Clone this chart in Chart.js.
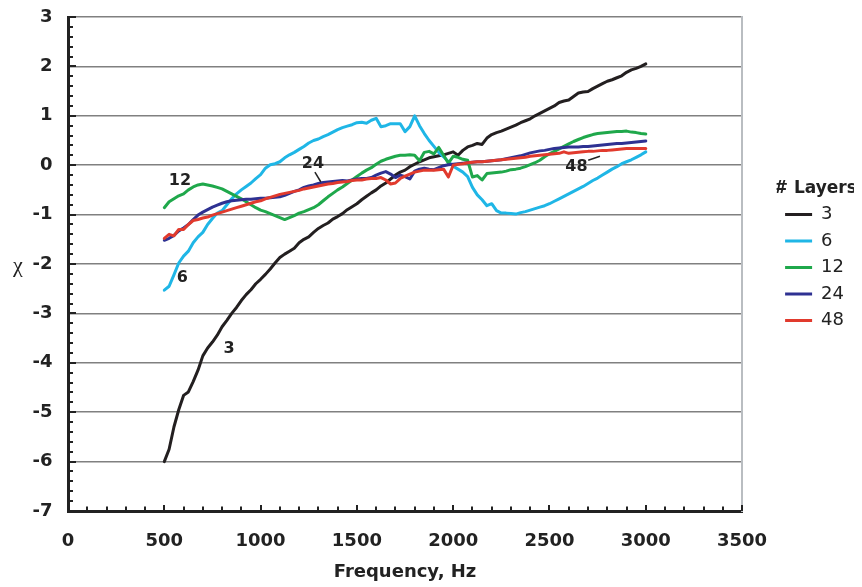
<!DOCTYPE html>
<html>
<head>
<meta charset="utf-8">
<script src="https://cdn.jsdelivr.net/npm/chart.js@4.4.0/dist/chart.umd.min.js"></script>
<style>
  html, body { margin: 0; padding: 0; background: #fff; }
</style>
</head>
<body>
<canvas id="chart" width="862" height="587"></canvas>
<script>
// frequency samples, Hz
const freq = [
  500, 525, 550, 575, 600, 625, 650, 675, 700, 725,
  750, 775, 800, 825, 850, 875, 900, 925, 950, 975,
  1000, 1025, 1050, 1075, 1100, 1125, 1150, 1175, 1200, 1225,
  1250, 1275, 1300, 1325, 1350, 1375, 1400, 1425, 1450, 1475,
  1500, 1525, 1550, 1575, 1600, 1625, 1650, 1675, 1700, 1725,
  1750, 1775, 1800, 1825, 1850, 1875, 1900, 1925, 1950, 1975,
  2000, 2025, 2050, 2075, 2100, 2125, 2150, 2175, 2200, 2225,
  2250, 2275, 2300, 2325, 2350, 2375, 2400, 2425, 2450, 2475,
  2500, 2525, 2550, 2575, 2600, 2625, 2650, 2675, 2700, 2725,
  2750, 2775, 2800, 2825, 2850, 2875, 2900, 2925, 2950, 2975,
  3000
];

const layers3 = [
  -6.00, -5.75, -5.30, -4.95, -4.66, -4.59, -4.38, -4.15, -3.86, -3.70,
  -3.58, -3.44, -3.27, -3.14, -3.00, -2.88, -2.74, -2.62, -2.52, -2.40,
  -2.31, -2.21, -2.10, -1.98, -1.87, -1.80, -1.74, -1.68, -1.57, -1.50,
  -1.45, -1.36, -1.28, -1.22, -1.17, -1.09, -1.04, -0.98, -0.90, -0.84,
  -0.78, -0.70, -0.63, -0.56, -0.50, -0.42, -0.36, -0.28, -0.20, -0.14,
  -0.10, -0.03, 0.02, 0.07, 0.11, 0.15, 0.17, 0.19, 0.21, 0.24,
  0.27, 0.20, 0.30, 0.37, 0.40, 0.44, 0.42, 0.55, 0.62, 0.66,
  0.69, 0.73, 0.77, 0.81, 0.86, 0.90, 0.94, 1.00, 1.05, 1.10,
  1.15, 1.20, 1.27, 1.30, 1.32, 1.39, 1.46, 1.48, 1.49, 1.55,
  1.60, 1.65, 1.70, 1.73, 1.77, 1.81, 1.88, 1.93, 1.96, 2.00,
  2.05
];

const layers6 = [
  -2.53, -2.45, -2.22, -1.98, -1.84, -1.74, -1.57, -1.45, -1.36, -1.20,
  -1.08, -0.97, -0.92, -0.80, -0.68, -0.58, -0.50, -0.43, -0.36, -0.27,
  -0.19, -0.06, 0.01, 0.03, 0.07, 0.15, 0.21, 0.26, 0.32, 0.38,
  0.45, 0.50, 0.53, 0.58, 0.62, 0.67, 0.72, 0.76, 0.79, 0.82,
  0.86, 0.87, 0.85, 0.91, 0.95, 0.78, 0.80, 0.84, 0.84, 0.84,
  0.68, 0.78, 1.00, 0.80, 0.64, 0.50, 0.38, 0.26, 0.17, 0.07,
  -0.02, -0.08, -0.14, -0.23, -0.45, -0.60, -0.70, -0.82, -0.78, -0.92,
  -0.97, -0.97, -0.98, -0.99, -0.96, -0.94, -0.91, -0.88, -0.85, -0.82,
  -0.78, -0.73, -0.68, -0.63, -0.58, -0.53, -0.48, -0.43, -0.37, -0.31,
  -0.26, -0.20, -0.14, -0.08, -0.03, 0.03, 0.07, 0.11, 0.16, 0.21,
  0.27
];

const layers12 = [
  -0.86, -0.74, -0.68, -0.62, -0.58, -0.50, -0.44, -0.40, -0.38, -0.40,
  -0.42, -0.45, -0.48, -0.53, -0.58, -0.63, -0.68, -0.74, -0.80, -0.86,
  -0.91, -0.94, -0.98, -1.02, -1.06, -1.10, -1.06, -1.02, -0.97, -0.94,
  -0.90, -0.86, -0.80, -0.72, -0.64, -0.57, -0.50, -0.44, -0.37, -0.30,
  -0.23, -0.16, -0.10, -0.05, 0.02, 0.08, 0.12, 0.15, 0.18, 0.20,
  0.20, 0.21, 0.20, 0.09, 0.26, 0.28, 0.23, 0.36, 0.20, 0.04,
  0.18, 0.16, 0.12, 0.10, -0.24, -0.21, -0.30, -0.17, -0.16, -0.15,
  -0.14, -0.12, -0.09, -0.08, -0.06, -0.03, 0.01, 0.05, 0.10, 0.17,
  0.23, 0.28, 0.33, 0.38, 0.43, 0.48, 0.52, 0.56, 0.59, 0.62,
  0.64, 0.65, 0.66, 0.67, 0.68, 0.68, 0.69, 0.67, 0.66, 0.64,
  0.63
];

const layers24 = [
  -1.52, -1.48, -1.42, -1.33, -1.27, -1.20, -1.10, -1.01, -0.95, -0.90,
  -0.85, -0.81, -0.77, -0.74, -0.72, -0.71, -0.70, -0.69, -0.69, -0.68,
  -0.67, -0.67, -0.66, -0.65, -0.64, -0.61, -0.57, -0.53, -0.50, -0.45,
  -0.42, -0.40, -0.37, -0.35, -0.34, -0.33, -0.32, -0.31, -0.32, -0.30,
  -0.28, -0.27, -0.27, -0.25, -0.20, -0.16, -0.13, -0.18, -0.25, -0.20,
  -0.23, -0.28, -0.12, -0.08, -0.06, -0.08, -0.09, -0.05, -0.01, 0.01,
  0.02, 0.03, 0.04, 0.05, 0.06, 0.07, 0.07, 0.08, 0.09, 0.10,
  0.11, 0.13, 0.15, 0.17, 0.19, 0.22, 0.25, 0.27, 0.29, 0.30,
  0.32, 0.34, 0.35, 0.36, 0.37, 0.37, 0.37, 0.38, 0.38, 0.39,
  0.40, 0.41, 0.42, 0.43, 0.44, 0.44, 0.45, 0.46, 0.47, 0.48,
  0.49
];

const layers48 = [
  -1.48, -1.40, -1.43, -1.30, -1.30, -1.20, -1.12, -1.10, -1.07, -1.05,
  -1.01, -0.98, -0.95, -0.92, -0.89, -0.86, -0.83, -0.80, -0.77, -0.74,
  -0.72, -0.68, -0.65, -0.62, -0.59, -0.57, -0.55, -0.53, -0.51, -0.48,
  -0.46, -0.44, -0.42, -0.40, -0.38, -0.37, -0.35, -0.34, -0.33, -0.31,
  -0.30, -0.30, -0.28, -0.27, -0.27, -0.25, -0.30, -0.38, -0.36, -0.27,
  -0.22, -0.18, -0.14, -0.12, -0.10, -0.10, -0.10, -0.09, -0.08, -0.24,
  0.00, 0.02, 0.03, 0.05, 0.06, 0.07, 0.07, 0.08, 0.09, 0.10,
  0.11, 0.12, 0.13, 0.14, 0.15, 0.16, 0.18, 0.19, 0.20, 0.21,
  0.22, 0.23, 0.24, 0.27, 0.24, 0.25, 0.26, 0.27, 0.28, 0.28,
  0.29, 0.30, 0.30, 0.31, 0.32, 0.33, 0.34, 0.34, 0.34, 0.34,
  0.34
];

const seriesNames = ['3', '6', '12', '24', '48'];
const seriesValues = [layers3, layers6, layers12, layers24, layers48];
const seriesColors = ['#231f20', '#1fb6e6', '#1fa84b', '#2e3192', '#e13a2d'];

// in-plot curve labels, data coordinates
const curveLabels = [
  { text: '12', f: 581, v: -0.32 },
  { text: '6', f: 594, v: -2.28 },
  { text: '3', f: 836, v: -3.72 },
  { text: '24', f: 1272, v: 0.03, lead: [1282, -0.14, 1313, -0.34] },
  { text: '48', f: 2640, v: -0.04, lead: [2701, 0.10, 2762, 0.18] }
];

Chart.defaults.font.family = "'DejaVu Sans', Verdana, sans-serif";
Chart.defaults.color = '#222';

const datasets = seriesNames.map((name, i) => ({
  label: name,
  data: freq.map((f, j) => ({ x: f, y: seriesValues[i][j] })),
  borderColor: seriesColors[i],
  backgroundColor: seriesColors[i],
  borderWidth: 3,
  pointRadius: 0,
  tension: 0,
  borderJoinStyle: 'round',
  borderCapStyle: 'round',
  order: seriesNames.length - 1 - i
}));

// minor/major ticks pointing into the plot, plus axis symbol and curve labels
const extras = {
  id: 'extras',
  afterDraw(chart) {
    const { ctx, scales: { x, y } } = chart;
    ctx.save();
    ctx.strokeStyle = '#222';
    ctx.lineWidth = 2;
    ctx.beginPath();
    for (let i = 0; i <= 50; i++) {
      const py = Math.round(y.getPixelForValue(-7 + i * 0.2));
      ctx.moveTo(x.left, py);
      ctx.lineTo(x.left + (i % 5 === 0 ? 8 : 5), py);
    }
    for (let i = 0; i <= 35; i++) {
      const px = Math.round(x.getPixelForValue(i * 100));
      ctx.moveTo(px, y.bottom);
      ctx.lineTo(px, y.bottom - (i % 5 === 0 ? 6 : 4.5));
    }
    ctx.stroke();

    ctx.fillStyle = '#222';
    ctx.font = "22px 'Liberation Serif', serif";
    ctx.textAlign = 'center';
    ctx.textBaseline = 'alphabetic';
    ctx.fillText('χ', 18, y.getPixelForValue(-2) + 8);

    ctx.font = "bold 16px 'DejaVu Sans', Verdana, sans-serif";
    ctx.textBaseline = 'middle';
    ctx.lineWidth = 1.5;
    curveLabels.forEach((c) => {
      ctx.fillText(c.text, x.getPixelForValue(c.f), y.getPixelForValue(c.v));
      if (c.lead) {
        ctx.beginPath();
        ctx.moveTo(x.getPixelForValue(c.lead[0]), y.getPixelForValue(c.lead[1]));
        ctx.lineTo(x.getPixelForValue(c.lead[2]), y.getPixelForValue(c.lead[3]));
        ctx.stroke();
      }
    });
    ctx.restore();
  }
};

new Chart(document.getElementById('chart'), {
  type: 'line',
  data: { datasets },
  options: {
    responsive: false,
    animation: false,
    events: [],
    layout: { padding: { top: 17, right: 8, bottom: 0, left: 0 } },
    scales: {
      x: {
        type: 'linear',
        min: 0,
        max: 3500,
        grid: { display: false, drawTicks: false },
        border: { display: true, color: '#222', width: 3 },
        ticks: {
          stepSize: 500,
          padding: 20,
          maxRotation: 0,
          autoSkip: false,
          font: { size: 18, weight: 'bold' },
          callback: (v) => String(v)
        },
        title: {
          display: true,
          text: 'Frequency, Hz',
          font: { size: 18, weight: 'bold' },
          padding: { top: 0, bottom: 4 }
        },
        afterFit: (s) => { s.height = 76; }
      },
      y: {
        min: -7,
        max: 3,
        grid: {
          color: '#808080',
          lineWidth: 1.5,
          drawTicks: true,
          tickLength: 9.3,
          tickColor: 'rgba(0,0,0,0)'
        },
        border: { display: true, color: '#222', width: 3 },
        ticks: {
          stepSize: 1,
          padding: 6.2,
          font: { size: 18, weight: 'bold' }
        },
        afterFit: (s) => { s.width = 68; }
      },
      y2: {
        position: 'right',
        grid: { display: false, drawTicks: false },
        ticks: { display: false },
        border: { display: true, color: '#b9bdc1', width: 2 },
        afterFit: (s) => { s.width = 34.5; }
      }
    },
    plugins: {
      tooltip: { enabled: false },
      legend: {
        position: 'right',
        align: 'start',
        title: {
          display: true,
          text: '# Layers',
          font: { size: 17, weight: 'bold', lineHeight: 1 },
          padding: { top: 163, bottom: 0 }
        },
        labels: {
          usePointStyle: true,
          pointStyle: 'line',
          pointStyleWidth: 27,
          boxWidth: 27,
          padding: 8.5,
          font: { size: 18 },
          sort: (a, b) => a.datasetIndex - b.datasetIndex
        }
      }
    }
  },
  plugins: [extras]
});
</script>
</body>
</html>
